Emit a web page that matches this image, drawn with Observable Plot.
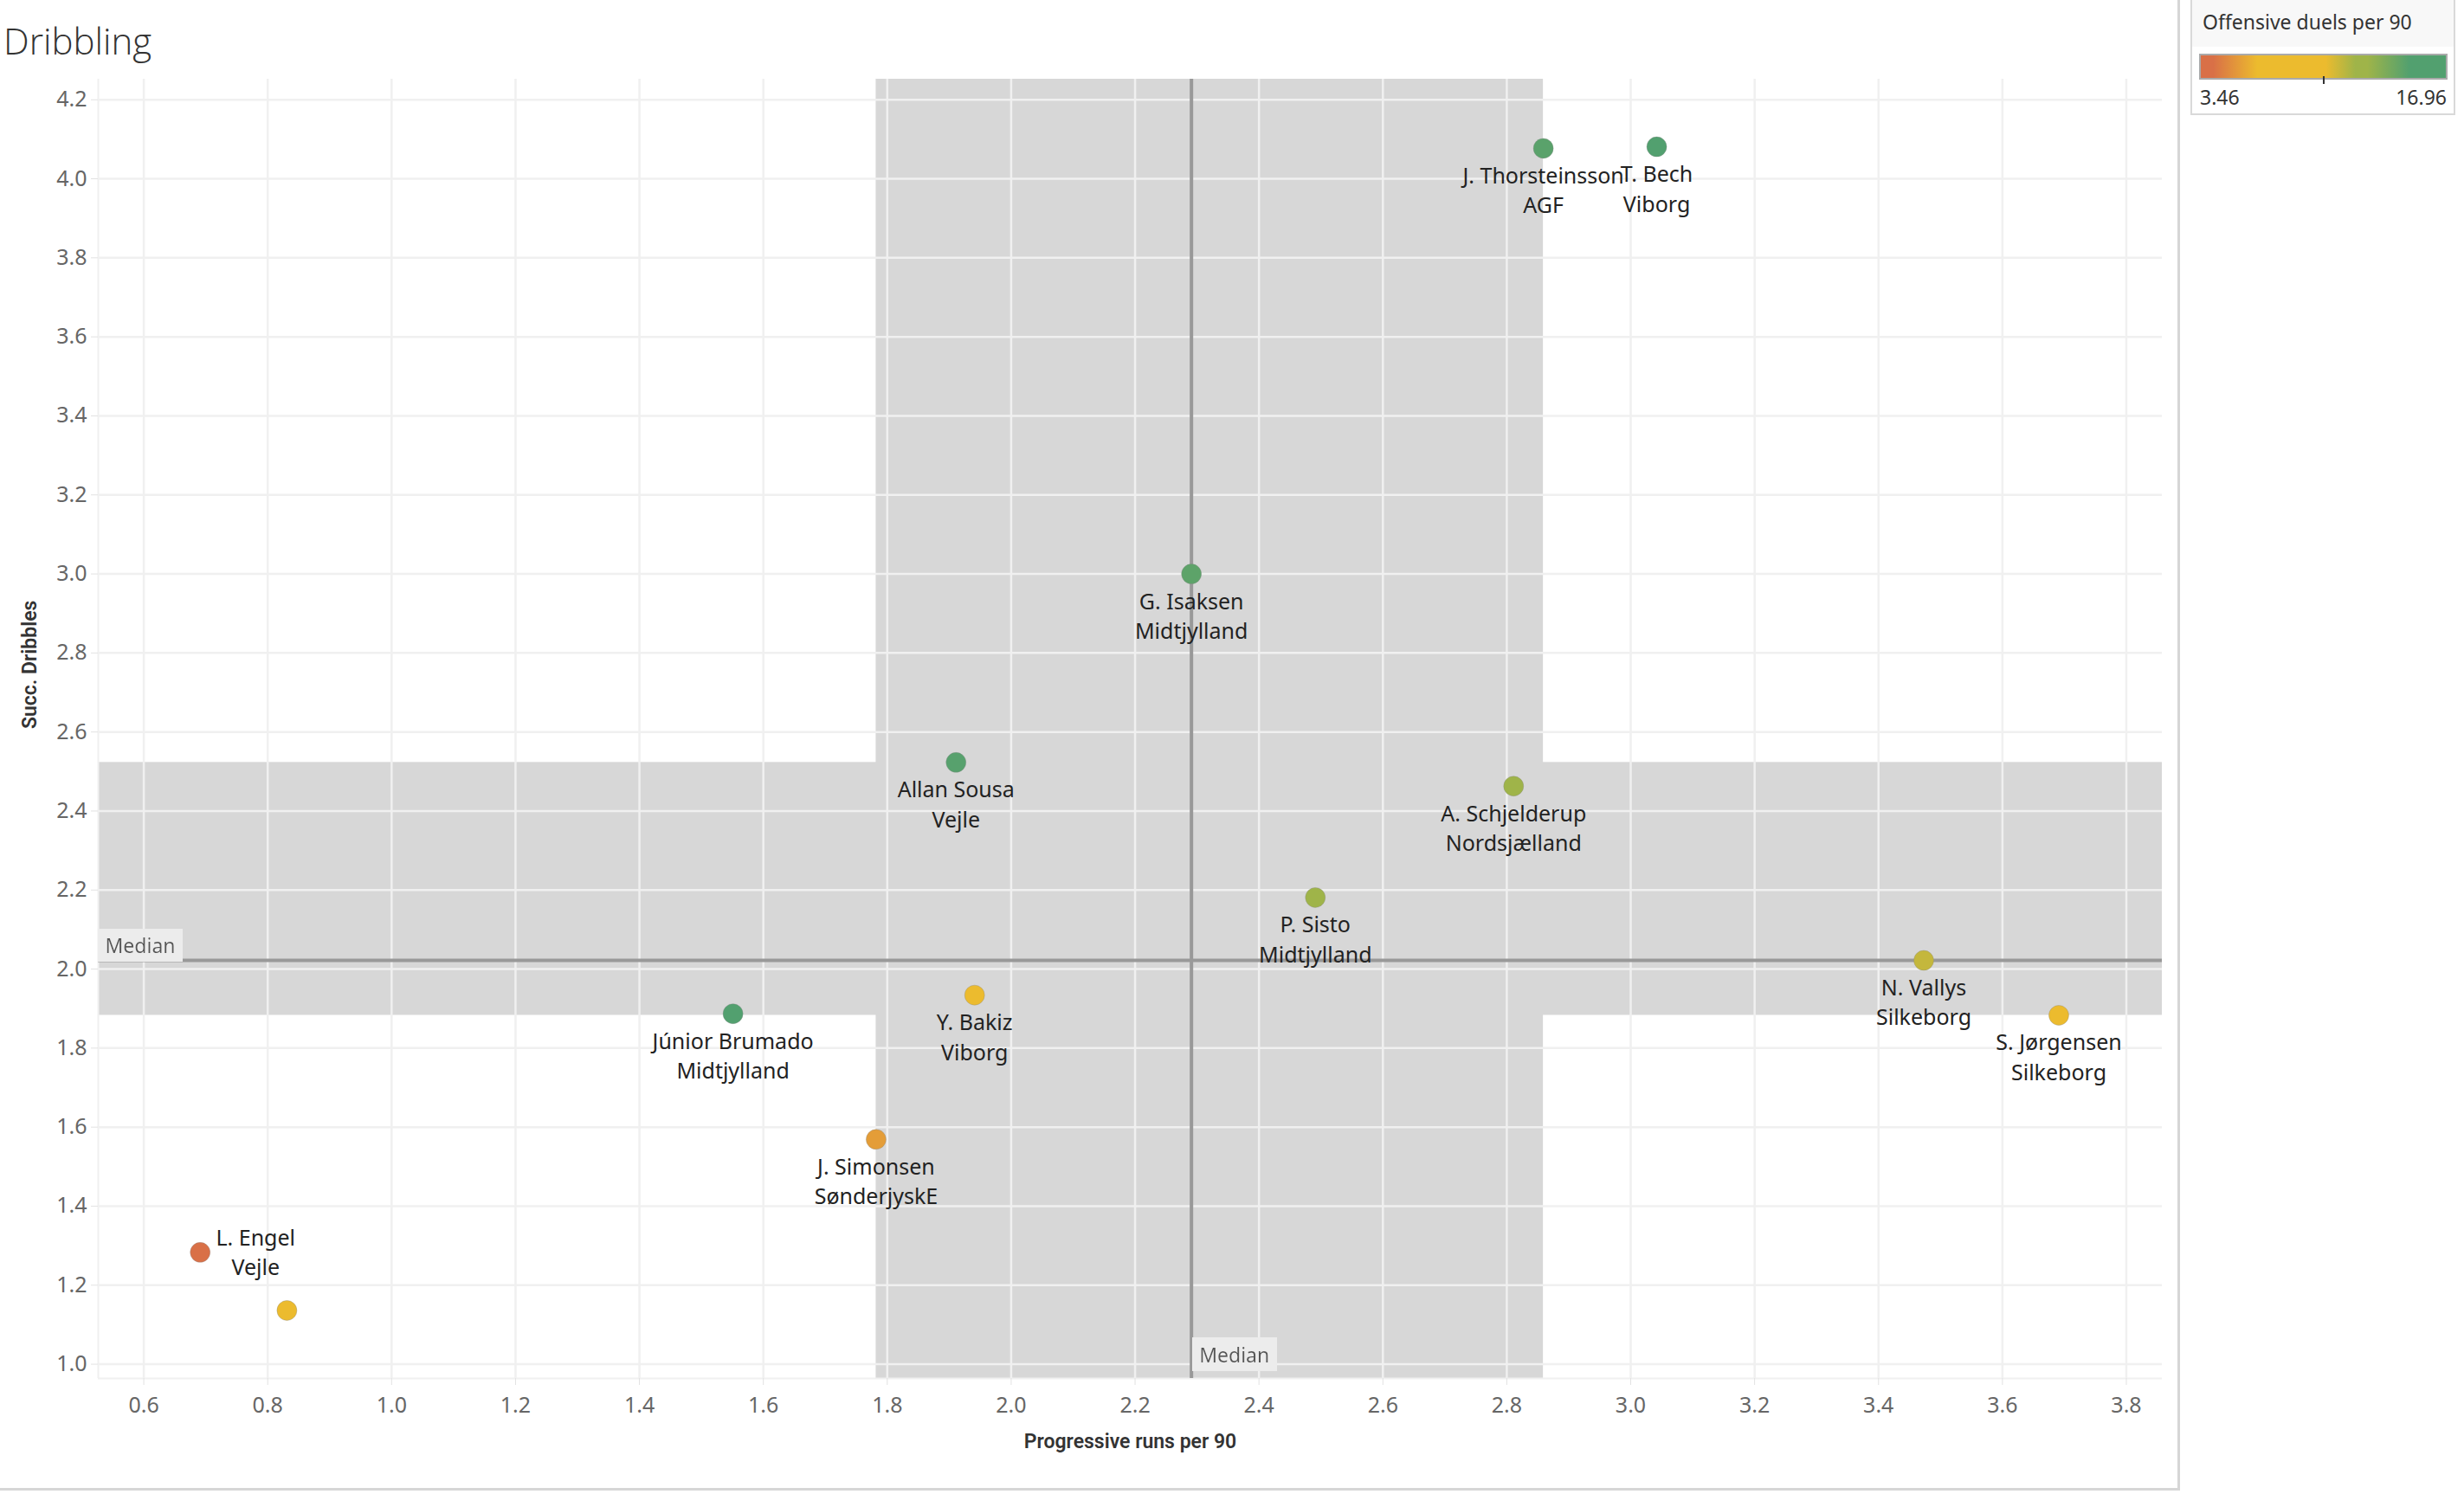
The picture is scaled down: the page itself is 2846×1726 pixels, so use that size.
<!DOCTYPE html>
<html>
<head>
<meta charset="utf-8">
<script src="https://cdn.jsdelivr.net/npm/d3@7"></script>
<script src="https://cdn.jsdelivr.net/npm/@observablehq/plot@0.6"></script>
<style>
  html, body { margin: 0; padding: 0; background: #fff; }
  body { width: 2846px; height: 1726px; position: relative; overflow: hidden; font-family: "Noto Sans", sans-serif; }
  #title { position: absolute; left: 4px; top: 18px; font-family: "Open Sans", sans-serif; font-weight: 300; font-size: 42px; color: #333; white-space: nowrap; }
  #chart { position: absolute; left: 0; top: 0; }
  #vborder { position: absolute; left: 2515px; top: 0; width: 3px; height: 1722px; background: #d6d6d6; }
  #hborder { position: absolute; left: 0; top: 1719px; width: 2518px; height: 3px; background: #d6d6d6; }
  #legend { position: absolute; left: 2530px; top: 0; width: 302px; height: 131px; border: 2px solid #d9d9d9; border-top: none; background: #fff; }
  #legend .head { height: 54px; background: #f8f8f8; font-size: 23px; color: #333; padding-left: 12px; line-height: 50px; white-space: nowrap; }
  #legend .bar { position: absolute; left: 8px; top: 62px; width: 283px; height: 26px; border: 2px solid #aaa; }
  #legend .tick { position: absolute; left: 151px; top: 88px; width: 2px; height: 9px; background: #333; }
  #legend .lo { position: absolute; left: 9px; top: 96px; font-size: 23px; color: #333; }
  #legend .hi { position: absolute; right: 8px; top: 96px; font-size: 23px; color: #333; }
</style>
</head>
<body>
<div id="title">Dribbling</div>
<div id="chart"></div>
<div id="vborder"></div>
<div id="hborder"></div>
<div id="legend">
  <div class="head">Offensive duels per 90</div>
  <div class="bar"></div>
  <div class="tick"></div>
  <div class="lo"></div>
  <div class="hi"></div>
</div>
<script>
// ---------- data ----------
const players = ["J. Thorsteinsson", "T. Bech", "G. Isaksen", "Allan Sousa", "A. Schjelderup", "P. Sisto", "N. Vallys", "S. Jørgensen", "Júnior Brumado", "Y. Bakiz", "J. Simonsen", "L. Engel", ""];
const teams = ["AGF", "Viborg", "Midtjylland", "Vejle", "Nordsjælland", "Midtjylland", "Silkeborg", "Silkeborg", "Midtjylland", "Viborg", "SønderjyskE", "Vejle", ""];
const progressiveRuns = [2.859, 3.042, 2.291, 1.911, 2.811, 2.491, 3.473, 3.691, 1.551, 1.941, 1.782, 0.691, 0.831];
const succDribbles = [4.077, 4.081, 3.000, 2.523, 2.463, 2.181, 2.022, 1.883, 1.887, 1.934, 1.569, 1.283, 1.136];
const offensiveDuels = [14.7, 16.96, 14.6, 14.8, 12.4, 12.2, 11.2, 9.0, 16.2, 8.0, 5.6, 3.46, 7.0];
const labelRight = ["L. Engel"];

const xTicks = [0.6, 0.8, 1.0, 1.2, 1.4, 1.6, 1.8, 2.0, 2.2, 2.4, 2.6, 2.8, 3.0, 3.2, 3.4, 3.6, 3.8];
const yTicks = [1.0, 1.2, 1.4, 1.6, 1.8, 2.0, 2.2, 2.4, 2.6, 2.8, 3.0, 3.2, 3.4, 3.6, 3.8, 4.0, 4.2];
const xDomain = [0.5265, 3.858];
const yDomain = [0.964, 4.252];

const colorLegendMin = 3.46;
const colorLegendMax = 16.96;
const colorStops = [3.46, 4.14, 6.57, 10.35, 11.97, 12.64, 14.94, 16.96];
const colorRange = ["#d97047", "#d97047", "#ecbb2e", "#ecbb2e", "#9fb449", "#9fb449", "#52a06f", "#52a06f"];

const xTitle = "Progressive runs per 90";
const yTitle = "Succ. Dribbles";
const medianText = "Median";

// ---------- derived ----------
const data = players.map((p, i) => ({
  player: p, team: teams[i], x: progressiveRuns[i], y: succDribbles[i], duels: offensiveDuels[i]
}));
const medX = d3.median(progressiveRuns);
const medY = d3.median(succDribbles);
const q1x = d3.quantile(progressiveRuns, 0.25), q3x = d3.quantile(progressiveRuns, 0.75);
const q1y = d3.quantile(succDribbles, 0.25), q3y = d3.quantile(succDribbles, 0.75);

const bandColor = "#d7d7d7";
const gridColor = "#f0f0f0";
const fmt = d => d.toFixed(1);

const chart = Plot.plot({
  width: 2518,
  height: 1722,
  marginLeft: 113,
  marginTop: 91,
  marginRight: 21,
  marginBottom: 130,
  style: { fontFamily: '"Noto Sans", sans-serif', background: "transparent", color: "#666", overflow: "visible" },
  x: { domain: xDomain },
  y: { domain: yDomain },
  color: { type: "linear", domain: colorStops, range: colorRange },
  marks: [
    Plot.rect([0], { x1: () => q1x, x2: () => q3x, fill: bandColor }),
    Plot.rect([0], { y1: () => q1y, y2: () => q3y, fill: bandColor }),
    Plot.gridX(xTicks, { stroke: gridColor, strokeOpacity: 1, strokeWidth: 2.5 }),
    Plot.gridY(yTicks, { stroke: gridColor, strokeOpacity: 1, strokeWidth: 2.5 }),
    Plot.ruleX([xDomain[0]], { stroke: gridColor, strokeWidth: 2 }),
    Plot.ruleY([yDomain[0]], { stroke: gridColor, strokeWidth: 2 }),
    Plot.axisX({ ticks: xTicks, tickFormat: fmt, tickSize: 8, tickPadding: 14, fontSize: 25, stroke: "#e2e2e2", fill: "#666", label: null }),
    Plot.axisY({ ticks: yTicks, tickFormat: fmt, tickSize: 8, tickPadding: 5, fontSize: 25, stroke: "#e2e2e2", fill: "#666", label: null }),
    Plot.ruleX([medX], { stroke: "#999", strokeWidth: 4 }),
    Plot.ruleY([medY], { stroke: "#999", strokeWidth: 4 }),
    Plot.text([medY], { y: d => d, text: () => medianText, frameAnchor: "left", textAnchor: "start", dx: 8, dy: -16, fontSize: 23, fill: "#555" }),
    Plot.text([medX], { x: d => d, text: () => medianText, frameAnchor: "bottom", textAnchor: "start", dx: 9, dy: -19, fontSize: 23, fill: "#555" }),
    Plot.dot(data, { x: "x", y: "y", r: 11.5, fill: "duels", stroke: "#888", strokeOpacity: 0.35, strokeWidth: 1 }),
    Plot.text(data.filter(d => d.player && !labelRight.includes(d.player)), {
      x: "x", y: "y", text: d => d.player + "\n" + d.team,
      lineAnchor: "top", dy: 16, lineHeight: 1.38, fontSize: 25, fill: "#222"
    }),
    Plot.text(data.filter(d => labelRight.includes(d.player)), {
      x: "x", y: "y", text: d => d.player + "\n" + d.team,
      lineAnchor: "middle", dx: 64, dy: -2, lineHeight: 1.38, fontSize: 25, fill: "#222"
    }),
    Plot.text([xTitle], { text: d => d, frameAnchor: "bottom", dy: 80, fontSize: 23, fontWeight: 600, fill: "#333", fontFamily: "Roboto, sans-serif" }),
    Plot.text([yTitle], { text: d => d, frameAnchor: "left", rotate: -90, dx: -79, fontSize: 23, fontWeight: 600, fill: "#333", fontFamily: "Roboto, sans-serif" })
  ]
});

// background box behind the "Median" labels
const svgNS = "http://www.w3.org/2000/svg";
const defs = document.createElementNS(svgNS, "defs");
defs.innerHTML = '<filter id="medbg" x="-0.1" y="-0.08" width="1.2" height="1.16"><feFlood flood-color="#ececec" result="bg"/><feMerge><feMergeNode in="bg"/><feMergeNode in="SourceGraphic"/></feMerge></filter>';
chart.insertBefore(defs, chart.firstChild);
chart.querySelectorAll("text").forEach(t => {
  if (t.textContent === medianText) t.setAttribute("filter", "url(#medbg)");
});

document.getElementById("chart").appendChild(chart);

// legend (color ramp built from the same stops)
const span = colorLegendMax - colorLegendMin;
const grad = colorStops.map((v, i) => `${colorRange[i]} ${((v - colorLegendMin) / span * 100).toFixed(2)}%`).join(", ");
document.querySelector("#legend .bar").style.background = `linear-gradient(to right, ${grad})`;
document.querySelector("#legend .lo").textContent = colorLegendMin.toFixed(2);
document.querySelector("#legend .hi").textContent = colorLegendMax.toFixed(2);
</script>
</body>
</html>
